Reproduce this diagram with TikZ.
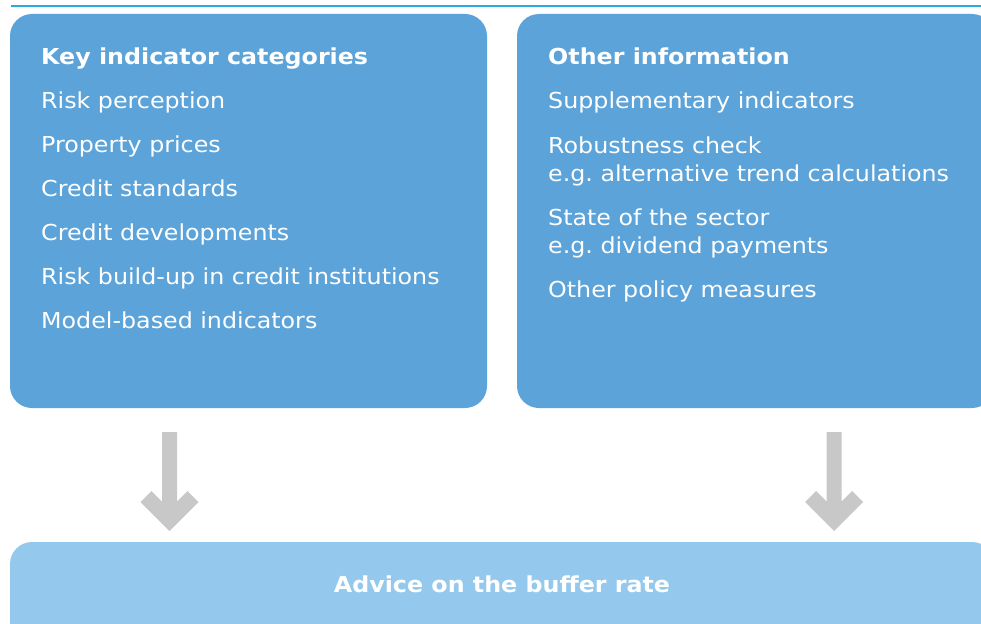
\documentclass[tikz,border=0pt]{standalone}
\usepackage{fontspec}
\setmainfont[FakeStretch=1.08]{DejaVu Sans}
\frenchspacing
\definecolor{boxblue}{RGB}{91,163,217}
\definecolor{lightbox}{RGB}{148,201,237}
\definecolor{arrowgrey}{RGB}{200,200,200}
\definecolor{topline}{RGB}{41,171,226}
\tikzset{
  bigbox/.style={fill=boxblue, rounded corners=22pt},
  lowbox/.style={fill=lightbox, rounded corners=22pt},
  itemtext/.style={anchor=base west, inner sep=0pt, text=white, font=\fontsize{22}{26}\selectfont\frenchspacing},
  headtext/.style={itemtext, font=\fontsize{22}{26}\selectfont\bfseries},
  blockarrow/.style={fill=arrowgrey}
}
\begin{document}
\begin{tikzpicture}[x=1pt,y=-1pt]
\useasboundingbox (0,0) rectangle (981,623);
\clip (0,0) rectangle (981,623);
% top rule
\coordinate (tl) at (11,6);
\coordinate (tr) at (981,6);
\draw[topline, line width=2.2pt] (tl) -- (tr);
% boxes
\path[bigbox] (10,14) rectangle (487,408);
\path[bigbox] (517,14) rectangle (994,408);
\path[lowbox] (10,542) rectangle (994,645);
\coordinate (keybox) at (248.5,211);
\coordinate (otherbox) at (755.5,211);
\coordinate (advice) at (502,584);
% left texts
\node[headtext] (kh) at (41,65) {Key indicator categories};
\node[itemtext] (k1) at (41,108.5) {Risk perception};
\node[itemtext] (k2) at (41,152.5) {Property prices};
\node[itemtext] (k3) at (41,196.5) {Credit standards};
\node[itemtext] (k4) at (41,240.5) {Credit developments};
\node[itemtext] (k5) at (41,284.5) {Risk build-up in credit institutions};
\node[itemtext] (k6) at (41,328.5) {Model-based indicators};
% right texts
\node[headtext] (oh) at (548,65) {Other information};
\node[itemtext] (o1) at (548,108.5) {Supplementary indicators};
\node[itemtext] (o2) at (548,153) {Robustness check};
\node[itemtext] (o2b) at (548,181.5) {e.g. alternative trend calculations};
\node[itemtext] (o3) at (548,225) {State of the sector};
\node[itemtext] (o3b) at (548,253.5) {e.g. dividend payments};
\node[itemtext] (o4) at (548,297) {Other policy measures};
% bottom text
\node[headtext, anchor=base] (adv) at (502,592) {Advice on the buffer rate};
% block arrows
\foreach \cx/\nm in {169.5/la, 834/ra}{
  \coordinate (\nm) at (\cx,432);
  \fill[blockarrow, shift={(\nm)}]
    (-7.5,0) -- (7.5,0) -- (7.5,69.5) -- (18,59) -- (29,70) -- (0,99)
    -- (-29,70) -- (-18,59) -- (-7.5,69.5) -- cycle;
}
\end{tikzpicture}
\end{document}
